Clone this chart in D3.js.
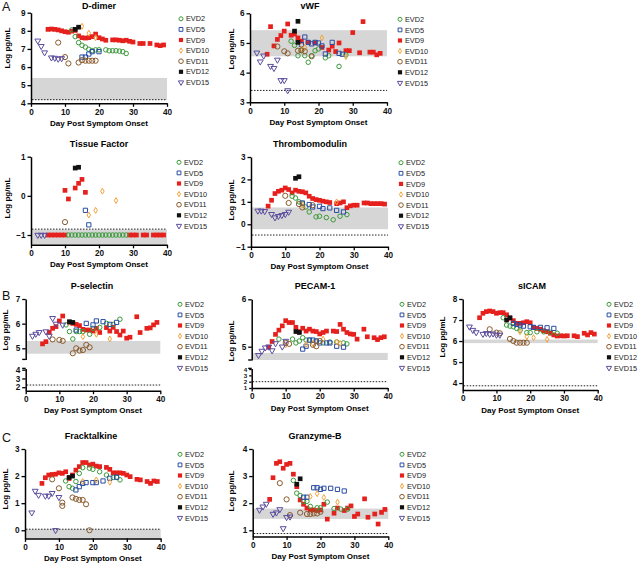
<!DOCTYPE html>
<html><head><meta charset="utf-8">
<script src="https://cdn.jsdelivr.net/npm/d3@7"></script>
<style>body{margin:0;background:#fff}svg{display:block;font-family:"Liberation Sans",Arial,Helvetica,sans-serif}</style>
</head><body><svg id="c" width="640" height="565"></svg>
<script>
// ---------- DATA ----------
const seriesNames = ["EVD2","EVD5","EVD9","EVD10","EVD11","EVD12","EVD15"];
const xTicks = [0,10,20,30,40];
const xTitle = "Day Post Symptom Onset";

const dDimer = {
  EVD2:[[12,8.05],[13,7.68],[14,7.35],[15,7.2],[16,7.1],[17,6.98],[18,6.9],[19,6.95],[20,6.95],[22,6.95],[23,6.9],[24,6.9],[25,6.9],[26,6.88],[27,6.85],[28,6.75]],
  EVD5:[[15,6.55],[16,6.55],[17,6.72],[18,6.85],[20,6.85]],
  EVD9:[[5,8.08],[6,8.1],[7,8.08],[8,8.05],[9,8.0],[10,7.95],[11,7.92],[12,7.98],[13,8.02],[14,7.72],[15,7.62],[16,7.6],[17,7.62],[18,7.68],[19,7.82],[20,7.62],[21,7.55],[22,7.48],[24,7.5],[25,7.5],[26,7.48],[27,7.45],[28,7.48],[29,7.42],[30,7.38],[32,7.3],[33,7.3],[35,7.3],[37,7.22],[38,7.18],[39,7.22]],
  EVD10:[[15,8.25],[17,7.87],[19,7.62]],
  EVD11:[[8,7.35],[10,6.55],[11,6.2],[14,6.25],[15,6.38],[16,6.35],[17,6.35],[18,6.35],[19,6.35]],
  EVD12:[[13,8.08],[14,8.2]],
  EVD15:[[2,7.45],[3,7.15],[4,6.8],[6,6.52],[7,6.5],[8,6.45],[9,6.48]]
};
const vWF = {
  EVD2:[[12,5.06],[13,4.92],[14,4.57],[15,4.75],[16,4.57],[17,4.35],[18,4.57],[19,4.74],[20,4.8],[22,4.5],[23,4.57],[26,4.21],[28,4.6]],
  EVD5:[[15,4.95],[16,5.2],[17,5.02],[18,4.97],[19,5.02],[20,5.0],[21,4.9],[22,4.63],[24,5.02],[26,4.65],[27,4.62]],
  EVD9:[[5,4.62],[6,5.55],[7,4.9],[8,5.12],[9,5.25],[10,5.4],[11,5.64],[12,5.26],[13,5.3],[14,5.17],[15,5.06],[17,5.02],[19,5.0],[21,4.85],[23,4.76],[24,4.89],[25,4.71],[26,5.0],[28,4.74],[29,4.74],[30,5.35],[32,4.67],[33,5.72],[35,4.69],[36,4.69],[37,4.6],[38,4.65]],
  EVD10:[[15,4.8],[16,4.85],[21,5.17],[28,4.54]],
  EVD11:[[8,4.88],[10,4.72],[11,4.65],[14,4.74],[15,4.75],[16,4.72],[18,4.55]],
  EVD12:[[13,5.4],[14,5.73],[14,5.02]],
  EVD15:[[2,4.67],[3,4.37],[4,4.57],[6,4.22],[7,4.15],[8,4.43],[9,3.74],[10,3.74],[11,3.4]]
};
const tissueFactor = {
  EVD2:[[11,-1],[12,-1],[13,-1],[14,-1],[15,-1],[16,-1],[17,-1],[18,-1],[19,-1],[20,-1],[21,-1],[22,-1],[23,-1],[24,-1],[25,-1],[26,-1],[27,-1],[28,-1]],
  EVD5:[[16,-0.37],[17,-0.74]],
  EVD9:[[5,-1],[6,-1],[7,-1],[8,-1],[9,-1],[10,-1],[10,0.14],[11,-0.08],[13,0.2],[14,0.32],[15,0.42],[16,0.09],[29,-1],[30,-1],[31,-1],[33,-1],[34,-1],[36,-1],[37,-1],[38,-1],[39,-1]],
  EVD10:[[17,-0.49],[19,-0.37],[21,0.12],[25,-0.12]],
  EVD11:[[10,-0.67]],
  EVD12:[[13,0.71],[14,0.73]],
  EVD15:[[2,-1],[3,-1],[4,-1]]
};
const thrombomodulin = {
  EVD2:[[12,1.25],[13,1.17],[14,1.0],[15,0.92],[16,0.77],[17,0.55],[19,0.33],[20,0.36],[22,0.3],[24,0.2],[26,0.36],[28,0.43]],
  EVD5:[[15,0.95],[17,0.88],[18,0.77],[20,0.8],[21,0.7],[23,0.73],[25,0.62],[27,0.55]],
  EVD9:[[5,0.81],[6,1.07],[7,1.37],[8,1.47],[9,1.52],[10,1.62],[11,1.55],[12,1.4],[13,1.52],[14,1.47],[15,1.45],[16,1.4],[17,1.25],[18,1.15],[19,1.1],[20,1.07],[21,1.03],[22,1.0],[23,0.97],[25,0.92],[26,0.95],[27,1.0],[28,0.74],[29,0.82],[30,0.85],[31,0.85],[33,0.95],[34,0.95],[35,0.92],[36,0.92],[37,0.92],[38,0.92],[39,0.9]],
  EVD10:[[15,0.85],[25,1.0]],
  EVD11:[[10,1.27],[11,0.95],[14,0.9],[15,0.75],[18,0.85]],
  EVD12:[[13,2.05],[14,2.12]],
  EVD15:[[2,0.6],[3,0.6],[4,0.58],[6,0.45],[7,0.3],[8,0.36],[9,0.4],[10,0.45],[11,0.55]]
};
const pSelectin = {
  EVD2:[[12,5.95],[13,5.68],[14,5.38],[15,5.68],[16,5.68],[17,5.68],[19,5.57],[20,5.81],[22,5.85],[24,6.01],[26,5.97],[28,6.18]],
  EVD5:[[15,5.74],[18,6.01],[20,5.95],[21,6.11],[23,6.08],[25,5.97],[27,6.05]],
  EVD9:[[5,5.18],[6,5.27],[7,5.65],[8,5.81],[9,5.88],[10,6.11],[11,6.31],[13,6.05],[14,6.01],[15,5.97],[16,5.92],[17,5.77],[18,5.74],[19,5.74],[20,5.7],[21,5.81],[22,5.64],[24,5.84],[25,5.7],[26,5.85],[27,5.68],[28,5.54],[29,5.7],[30,5.41],[31,5.45],[33,6.28],[34,5.64],[36,5.81],[37,5.83],[38,5.95],[39,6.05]],
  EVD10:[[17,5.47],[21,5.57],[25,5.38]],
  EVD11:[[8,5.36],[10,5.34],[11,5.3],[14,4.8],[15,5.0],[16,4.91],[17,4.93],[18,5.14],[19,5.04]],
  EVD12:[[13,6.08],[14,6.05]],
  EVD15:[[2,5.5],[3,5.58],[4,5.65],[6,5.68],[7,5.5],[8,6.22],[9,5.99],[11,5.95]]
};
const pecam1 = {
  EVD2:[[8,5.16],[12,5.16],[13,5.08],[14,5.12],[15,5.19],[16,5.14],[17,5.14],[19,5.12],[21,5.08],[23,5.1],[25,5.1],[27,5.08],[28,5.06]],
  EVD5:[[15,4.95],[16,5.01],[17,5.14],[18,5.14],[19,5.12],[20,5.08],[22,5.08],[23,5.08],[25,5.01],[27,4.99]],
  EVD9:[[5,4.99],[6,5.11],[7,5.26],[8,5.35],[9,5.44],[10,5.55],[11,5.51],[12,5.51],[13,5.41],[14,5.32],[15,5.39],[16,5.33],[17,5.37],[18,5.33],[19,5.32],[20,5.27],[21,5.3],[22,5.33],[24,5.33],[25,5.32],[26,5.47],[27,5.37],[28,5.3],[29,5.27],[30,5.26],[31,5.16],[33,5.37],[34,5.21],[36,5.19],[37,5.15],[38,5.19],[39,5.21]],
  EVD10:[[10,5.04],[16,5.05],[18,5.07],[21,5.16],[25,5.1],[26,5.07]],
  EVD11:[[10,5.08],[11,5.06],[18,5.04],[19,5.01],[20,5.12]],
  EVD12:[[13,5.32],[14,5.3]],
  EVD15:[[2,4.82],[3,4.91],[4,4.98],[5,5.0],[6,4.92],[7,5.07],[9,5.0],[10,5.12]]
};
const sICAM = {
  EVD2:[[12,7.11],[13,6.76],[14,6.71],[15,6.68],[16,6.6],[17,6.52],[19,6.4],[20,6.4],[22,6.44],[24,6.44],[26,6.41],[28,6.37]],
  EVD5:[[15,6.84],[16,6.79],[17,6.76],[18,6.71],[20,6.68],[21,6.65],[23,6.65],[25,6.63],[27,6.6]],
  EVD9:[[5,7.11],[6,7.32],[7,7.4],[8,7.43],[9,7.4],[10,7.32],[11,7.35],[12,7.35],[13,7.25],[14,7.08],[15,6.97],[16,6.84],[17,6.84],[18,6.87],[19,6.92],[20,6.87],[21,6.65],[22,6.6],[23,6.56],[24,6.49],[25,6.44],[26,6.37],[27,6.29],[28,6.24],[29,6.25],[30,6.24],[31,6.25],[33,6.25],[34,6.21],[36,6.37],[37,6.29],[38,6.4],[39,6.33]],
  EVD10:[[17,6.44],[19,6.21],[21,6.16],[25,6.08]],
  EVD11:[[8,6.56],[10,6.4],[11,6.37],[14,6.1],[15,6.0],[16,5.92],[17,5.92],[18,5.92],[19,5.92]],
  EVD12:[[13,7.0],[14,7.11]],
  EVD15:[[2,6.68],[3,6.52],[4,6.41],[6,6.33],[7,6.37],[8,6.33],[9,6.35],[10,6.29],[11,6.29]]
};
const fracktalkine = {
  EVD2:[[12,1.82],[13,1.61],[14,1.55],[15,1.8],[16,2.1],[17,2.31],[19,2.29],[20,2.25],[22,2.16],[24,2.04],[26,1.95],[27,1.95],[28,1.86]],
  EVD5:[[15,1.49],[16,1.61],[17,1.73],[18,1.76],[20,1.76],[21,1.76],[23,1.82],[25,1.92],[27,1.96]],
  EVD9:[[5,1.73],[6,1.94],[7,2.04],[8,2.06],[9,2.07],[10,2.12],[11,2.1],[12,2.16],[13,1.91],[14,2.04],[15,2.22],[16,2.35],[17,2.5],[18,2.5],[19,2.41],[20,2.44],[21,2.37],[22,2.35],[24,2.32],[25,2.25],[26,2.12],[27,2.12],[28,2.12],[29,2.1],[30,2.04],[31,1.98],[33,1.88],[34,1.86],[36,1.8],[37,1.73],[38,1.82],[39,1.8]],
  EVD10:[[17,1.8],[21,1.86],[25,1.77]],
  EVD11:[[8,1.88],[10,1.55],[11,1.02],[11,0.9],[14,1.21],[15,1.16],[16,1.12],[17,1.12],[18,0.96],[19,0.0]],
  EVD12:[[13,1.95],[14,2.0]],
  EVD15:[[2,0.65],[3,1.45],[4,1.3],[6,1.27],[7,1.27],[8,1.37],[9,0.0],[10,1.22]]
};
const granzymeB = {
  EVD2:[[12,2.84],[13,2.37],[14,2.28],[15,2.06],[16,2.07],[17,1.88],[19,1.83],[20,1.83],[22,2.04],[24,1.8],[26,1.78],[28,1.78]],
  EVD5:[[15,2.22],[16,2.22],[18,2.57],[19,2.57],[20,2.51],[21,2.55],[23,2.55],[25,2.51],[27,2.45]],
  EVD9:[[5,2.14],[6,2.94],[7,3.47],[8,3.53],[9,3.29],[10,3.43],[11,3.47],[12,3.07],[13,2.61],[14,2.12],[15,1.96],[16,1.82],[17,1.75],[18,1.75],[19,1.73],[20,1.75],[21,1.96],[22,1.41],[24,1.63],[25,1.82],[27,1.73],[28,1.82],[29,1.9],[30,1.51],[31,1.6],[33,2.16],[34,1.48],[36,1.6],[37,1.23],[38,1.66],[39,1.77]],
  EVD10:[[17,2.25],[19,2.35],[21,2.21],[25,2.04]],
  EVD11:[[8,2.74],[10,2.14],[11,1.56],[14,1.65],[16,1.6],[17,1.6],[18,1.62],[19,1.62],[20,1.68]],
  EVD12:[[13,2.7],[14,2.9]],
  EVD15:[[2,1.75],[3,1.87],[4,1.97],[6,1.6],[7,1.65],[8,1.77],[9,1.07],[10,1.48],[11,1.5]]
};

// ---------- STYLE ----------
const styles = {
  EVD2: {sym:d3.symbolCircle,  size:16, color:"#3b9a3b", filled:false},
  EVD5: {sym:d3.symbolSquare,  size:18, color:"#2a4da3", filled:false},
  EVD9: {sym:d3.symbolSquare,  size:22, color:"#e5201d", filled:true},
  EVD10:{sym:d3.symbolDiamond, size:10, color:"#f2a33a", filled:false},
  EVD11:{sym:d3.symbolCircle,  size:21, color:"#8a5a2c", filled:false},
  EVD12:{sym:d3.symbolSquare,  size:22, color:"#111111", filled:true},
  EVD15:{sym:d3.symbolTriangle,size:15, color:"#5a4d9e", filled:false, rot:180}
};
const drawOrder = ["EVD9","EVD2","EVD5","EVD10","EVD11","EVD15","EVD12"];

const panels = [
  {data:dDimer, title:"D-dimer", tx:99, ty:8.5, x0:31, x1:167,
   segs:[{dom:[4,9], rng:[103.3,12.7], ticks:[4,5,6,7,8,9]}], axisY:103.3,
   gray:[4.18,5.4], dotted:4.2, ylab:"Log pg/mL", ylx:7, yly:48, lx:181, ly:18.8},
  {data:vWF, title:"vWF", tx:310, ty:8.5, x0:250, x1:387,
   segs:[{dom:[3,6], rng:[102.3,13.3], ticks:[3,4,5,6]}], axisY:102.3,
   gray:[4.55,5.43], dotted:3.4, ylab:"Log ng/mL", ylx:231, yly:49, lx:400, ly:19.3},
  {data:tissueFactor, title:"Tissue Factor", tx:99, ty:146.5, x0:31, x1:167,
   segs:[{dom:[-1.25,1], rng:[244.8,156.7], ticks:[-1,0,1]}], axisY:244.8,
   gray:[-1.25,-0.86], dotted:-0.85, ylab:"Log pg/mL", ylx:7, yly:198, lx:179, ly:162.3},
  {data:thrombomodulin, title:"Thrombomodulin", tx:310, ty:146.5, x0:251, x1:388,
   segs:[{dom:[-1,3], rng:[246.7,157], ticks:[-1,0,1,2,3]}], axisY:246.7,
   gray:[-0.22,0.75], dotted:-0.48, ylab:"Log pg/mL", ylx:231, yly:200, lx:401, ly:162.7},
  {data:pSelectin, title:"P-selectin", tx:92, ty:289, x0:25.7, x1:160.3,
   segs:[{dom:[4.55,7], rng:[359.4,299], ticks:[5,6,7]},
         {dom:[1.6,4.15], rng:[390.7,368.4], ticks:[2,3,4]}], axisY:390.7,
   gray:[4.78,5.3], dotted:2.25, ylab:"Log pg/mL", ylx:5, yly:330, lx:180, ly:304.3},
  {data:pecam1, title:"PECAM-1", tx:315, ty:289, x0:251.7, x1:387.7,
   segs:[{dom:[4.72,6], rng:[360,299.3], ticks:[5,6]},
         {dom:[1,4.1], rng:[388,368.4], ticks:[1,2,3,4], small:true}], axisY:388,
   gray:[4.72,4.87], dotted:2, ylab:"Log pg/mL", ylx:231, yly:341, lx:402, ly:304.3},
  {data:sICAM, title:"sICAM", tx:532, ty:289, x0:462.7, x1:597.7,
   segs:[{dom:[3.67,8], rng:[390,299], ticks:[4,5,6,7,8]}], axisY:390,
   gray:[5.9,6.07], dotted:3.87, ylab:"Log pg/mL", ylx:442, yly:337, lx:609, ly:304.3},
  {data:fracktalkine, title:"Fracktalkine", tx:91, ty:439, x0:25, x1:160.7,
   segs:[{dom:[-0.3,3], rng:[538.4,449], ticks:[0,1,2,3]}], axisY:538.4,
   gray:[-0.3,0.04], dotted:0.04, ylab:"Log pg/mL", ylx:5, yly:489, lx:180, ly:454.3},
  {data:granzymeB, title:"Granzyme-B", tx:315, ty:439, x0:252.7, x1:388.3,
   segs:[{dom:[0.77,4], rng:[536.5,449], ticks:[1,2,3,4]}], axisY:536.5,
   gray:[1.42,1.8], dotted:0.88, ylab:"Log pg/mL", ylx:231, yly:491, lx:402, ly:454.3}
];

const svg = d3.select("#c");

function symPath(name, k) {
  const s = styles[name];
  return d3.symbol().type(s.sym).size(s.size * (k || 1))();
}
function applyStyle(sel, name) {
  const s = styles[name];
  sel.attr("fill", s.filled ? s.color : "none")
     .attr("stroke", s.filled ? "none" : s.color)
     .attr("stroke-width", 1);
}

panels.forEach(p => {
  const g = svg.append("g");
  const x = d3.scaleLinear().domain([0,40]).range([p.x0, p.x1]);
  const scales = p.segs.map(s => d3.scaleLinear().domain(s.dom).range(s.rng));
  const yv = v => {
    if (scales.length === 1) return scales[0](v);
    return v >= p.segs[0].dom[0] ? scales[0](v) : scales[1](v);
  };
  const gy1 = yv(p.gray[1]), gy0 = yv(p.gray[0]);
  g.append("rect").attr("x", p.x0 + 1).attr("y", gy1).attr("width", p.x1 - p.x0 - 1)
    .attr("height", gy0 - gy1).attr("fill", "#d6d6d6");
  g.append("line").attr("x1", p.x0 + 1).attr("x2", p.x1).attr("y1", yv(p.dotted)).attr("y2", yv(p.dotted))
    .attr("stroke", "#222").attr("stroke-width", 1).attr("stroke-dasharray", "1.5,1.5");

  p.segs.forEach((s, i) => {
    const ax = g.append("g").attr("transform", `translate(${p.x0},0)`)
      .call(d3.axisLeft(scales[i]).tickValues(s.ticks).tickSize(s.small ? 2.5 : 3.5).tickSizeOuter(0).tickPadding(2).tickFormat(d3.format("d")));
    if (s.small) ax.selectAll(".tick text").attr("data-small", "1");
    if (p.segs.length > 1) {
      const yEnd = i === 0 ? s.rng[0] : s.rng[1];
      ax.append("line").attr("x1", -3.5).attr("x2", 0).attr("y1", yEnd).attr("y2", yEnd)
        .attr("stroke", "#000").attr("stroke-width", 1.4);
    }
  });
  g.append("g").attr("transform", `translate(0,${p.axisY})`)
    .call(d3.axisBottom(x).tickValues(xTicks).tickSize(3.5).tickSizeOuter(0).tickPadding(2));

  g.selectAll(".domain").attr("stroke", "#000").attr("stroke-width", 1.5);
  g.selectAll(".tick line").attr("stroke", "#000").attr("stroke-width", 1.3);
  g.selectAll(".tick text").attr("font-size", 8.2).attr("font-weight", "bold").attr("fill", "#111")
    .attr("font-family", '"Liberation Sans",Arial,sans-serif');
  g.selectAll(".tick text[data-small]").attr("font-size", 6.2);

  g.append("text").attr("x", p.tx).attr("y", p.ty).attr("text-anchor", "middle")
    .attr("font-size", 9).attr("font-weight", "bold").text(p.title);
  g.append("text").attr("x", (p.x0 + p.x1) / 2).attr("y", p.axisY + 22.5).attr("text-anchor", "middle")
    .attr("font-size", 8).attr("font-weight", "bold").text(xTitle);
  g.append("text").attr("transform", `translate(${p.ylx + 3},${p.yly}) rotate(-90)`).attr("text-anchor", "middle")
    .attr("font-size", 8).attr("font-weight", "bold").text(p.ylab);

  drawOrder.forEach(name => {
    const pts = p.data[name] || [];
    const rot = styles[name].rot ? " rotate(180)" : "";
    g.append("g").selectAll("path").data(pts).join("path")
      .attr("d", symPath(name))
      .attr("transform", d => `translate(${x(d[0])},${yv(d[1])})${rot}`)
      .call(applyStyle, name);
  });

  const lg = g.append("g");
  seriesNames.forEach((name, i) => {
    const yy = p.ly + i * 10.6;
    const rot = styles[name].rot ? " rotate(180)" : "";
    lg.append("path").attr("d", symPath(name, 0.8))
      .attr("transform", `translate(${p.lx},${yy})${rot}`).call(applyStyle, name);
    lg.append("text").attr("x", p.lx + 5).attr("y", yy + 2.6).attr("font-size", 7.3).attr("fill", "#222").text(name);
  });
});

[["A",2,10.5],["B",2,300],["C",2,442]].forEach(([t,xx,yy]) => {
  svg.append("text").attr("x", xx).attr("y", yy).attr("font-size", 12.5).attr("fill", "#111").text(t);
});
</script></body></html>
